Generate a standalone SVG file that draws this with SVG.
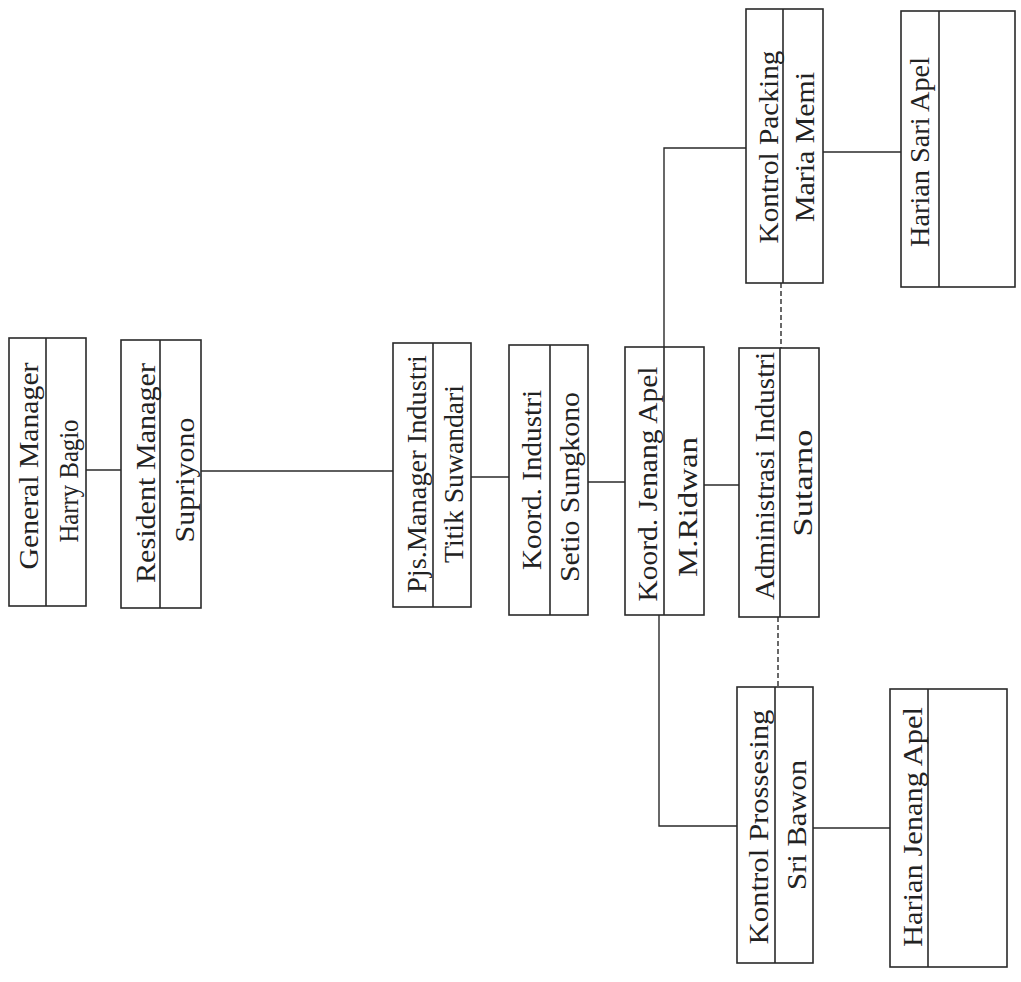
<svg xmlns="http://www.w3.org/2000/svg" width="1021" height="982" viewBox="0 0 1021 982">
<style>
.box{fill:#ffffff;stroke:#2a2a2a;stroke-width:1.6}
.div{stroke:#2a2a2a;stroke-width:1.6;fill:none}
.ln{stroke:#2a2a2a;stroke-width:1.4;fill:none}
.dash{stroke:#2a2a2a;stroke-width:1.4;fill:none;stroke-dasharray:5 3}
text{font-family:"Liberation Serif","Times New Roman",serif;font-size:28px;fill:#222222;text-anchor:middle}
</style>
<rect width="1021" height="982" fill="#ffffff"/>
<g id="connectors">
<line class="ln" x1="86" y1="470" x2="121" y2="470"/>
<line class="ln" x1="201" y1="471" x2="393" y2="471"/>
<line class="ln" x1="471" y1="477" x2="509" y2="477"/>
<line class="ln" x1="588" y1="482" x2="625" y2="482"/>
<line class="ln" x1="704" y1="485" x2="739" y2="485"/>
<path class="ln" d="M664,347 V148 H746"/>
<line class="ln" x1="823" y1="152" x2="901" y2="152"/>
<line class="dash" x1="781" y1="283" x2="781" y2="348"/>
<line class="dash" x1="778" y1="617" x2="778" y2="687"/>
<path class="ln" d="M659,615 V826 H737"/>
<line class="ln" x1="813" y1="828" x2="890" y2="828"/>
</g>
<g id="general-manager">
<rect class="box" x="9" y="338" width="77" height="268"/>
<line class="div" x1="46" y1="338" x2="46" y2="606"/>
<text x="38" y="466" transform="rotate(-90 38 466)" textLength="207" lengthAdjust="spacingAndGlyphs">General Manager</text>
<text x="78" y="481" transform="rotate(-90 78 481)" textLength="123" lengthAdjust="spacingAndGlyphs">Harry Bagio</text>
</g>
<g id="resident-manager">
<rect class="box" x="121" y="340" width="80" height="268"/>
<line class="div" x1="160" y1="340" x2="160" y2="608"/>
<text x="155" y="473" transform="rotate(-90 155 473)" textLength="220" lengthAdjust="spacingAndGlyphs">Resident Manager</text>
<text x="194" y="480" transform="rotate(-90 194 480)" textLength="125" lengthAdjust="spacingAndGlyphs">Supriyono</text>
</g>
<g id="pjs-manager">
<rect class="box" x="393" y="343" width="78" height="264"/>
<line class="div" x1="433" y1="343" x2="433" y2="607"/>
<text x="426" y="474" transform="rotate(-90 426 474)" textLength="238" lengthAdjust="spacingAndGlyphs">Pjs.Manager Industri</text>
<text x="463" y="474" transform="rotate(-90 463 474)" textLength="178" lengthAdjust="spacingAndGlyphs">Titik Suwandari</text>
</g>
<g id="koord-industri">
<rect class="box" x="509" y="345" width="79" height="270"/>
<line class="div" x1="550" y1="345" x2="550" y2="615"/>
<text x="541" y="480" transform="rotate(-90 541 480)" textLength="180" lengthAdjust="spacingAndGlyphs">Koord. Industri</text>
<text x="579" y="487" transform="rotate(-90 579 487)" textLength="190" lengthAdjust="spacingAndGlyphs">Setio Sungkono</text>
</g>
<g id="koord-jenang-apel">
<rect class="box" x="625" y="347" width="79" height="268"/>
<line class="div" x1="664" y1="347" x2="664" y2="615"/>
<text x="657" y="484" transform="rotate(-90 657 484)" textLength="235" lengthAdjust="spacingAndGlyphs">Koord. Jenang Apel</text>
<text x="697" y="507" transform="rotate(-90 697 507)" textLength="140" lengthAdjust="spacingAndGlyphs">M.Ridwan</text>
</g>
<g id="administrasi-industri">
<rect class="box" x="739" y="348" width="80" height="269"/>
<line class="div" x1="780" y1="348" x2="780" y2="617"/>
<text x="774" y="476" transform="rotate(-90 774 476)" textLength="248" lengthAdjust="spacingAndGlyphs">Administrasi Industri</text>
<text x="812" y="483" transform="rotate(-90 812 483)" textLength="107" lengthAdjust="spacingAndGlyphs">Sutarno</text>
</g>
<g id="kontrol-packing">
<rect class="box" x="746" y="9" width="77" height="274"/>
<line class="div" x1="783" y1="9" x2="783" y2="283"/>
<text x="778" y="147" transform="rotate(-90 778 147)" textLength="193" lengthAdjust="spacingAndGlyphs">Kontrol Packing</text>
<text x="814" y="147" transform="rotate(-90 814 147)" textLength="150" lengthAdjust="spacingAndGlyphs">Maria Memi</text>
</g>
<g id="harian-sari-apel">
<rect class="box" x="901" y="11" width="114" height="276"/>
<line class="div" x1="939" y1="11" x2="939" y2="287"/>
<text x="929" y="152" transform="rotate(-90 929 152)" textLength="190" lengthAdjust="spacingAndGlyphs">Harian Sari Apel</text>
</g>
<g id="kontrol-prossesing">
<rect class="box" x="737" y="687" width="76" height="276"/>
<line class="div" x1="775" y1="687" x2="775" y2="963"/>
<text x="768" y="827" transform="rotate(-90 768 827)" textLength="235" lengthAdjust="spacingAndGlyphs">Kontrol Prossesing</text>
<text x="806" y="825" transform="rotate(-90 806 825)" textLength="130" lengthAdjust="spacingAndGlyphs">Sri Bawon</text>
</g>
<g id="harian-jenang-apel">
<rect class="box" x="890" y="689" width="117" height="278"/>
<line class="div" x1="928" y1="689" x2="928" y2="967"/>
<text x="922" y="827" transform="rotate(-90 922 827)" textLength="240" lengthAdjust="spacingAndGlyphs">Harian Jenang Apel</text>
</g>
</svg>
